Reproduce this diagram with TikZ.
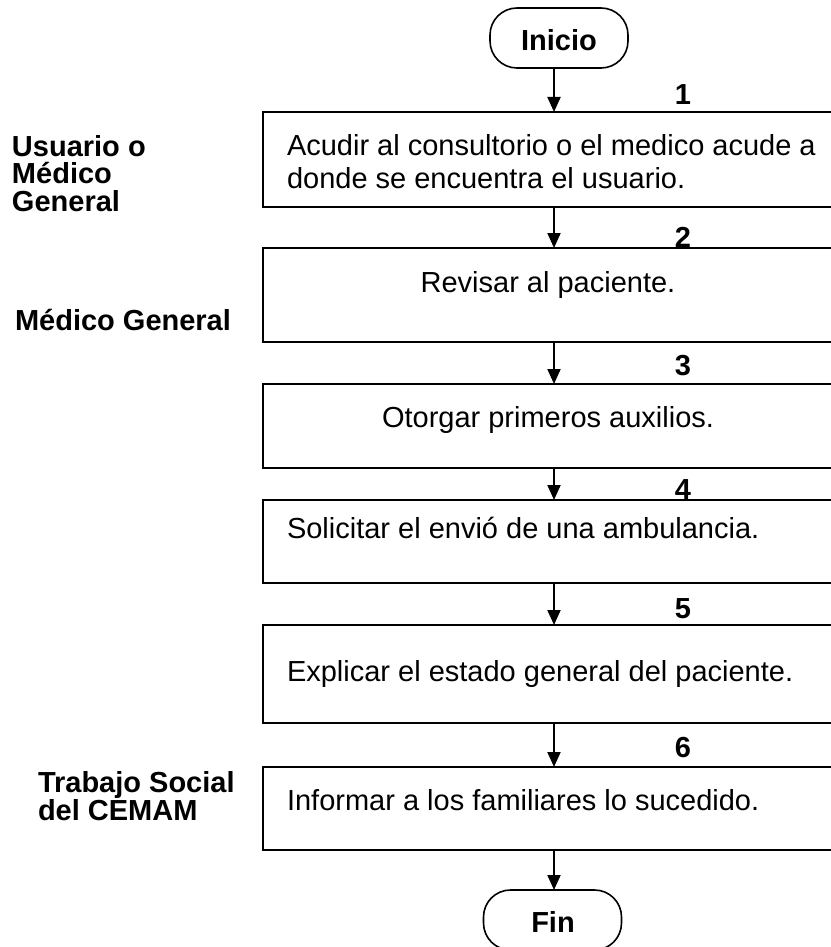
\documentclass[tikz,border=0pt]{standalone}
\usepackage{fontspec}
\setmainfont{Liberation Sans}
\usetikzlibrary{arrows.meta}
\begin{document}
\begin{tikzpicture}[x=1pt,y=-1pt,
  every node/.style={font=\fontsize{29}{33}\selectfont, inner sep=0pt, outer sep=0pt},
  stepbox/.style={draw, line width=2pt, anchor=north west, minimum width=572pt},
  term/.style={draw, line width=1.6pt, rounded corners=27pt, minimum width=138pt, minimum height=60pt},
  lbl/.style={font=\fontsize{29}{27.5}\selectfont\bfseries, anchor=base west, align=left},
  num/.style={font=\fontsize{29}{33}\selectfont\bfseries, anchor=base},
  txt/.style={anchor=base west, align=left},
  ctxt/.style={anchor=base},
  arr/.style={line width=2pt, -{Triangle[width=13pt,length=15pt]}}]
\useasboundingbox (0,0) rectangle (830,947);
\coordinate (ax) at (554,0);
% terminals
\node[term] (ini) at (559,38) {};
\node[font=\fontsize{29}{33}\selectfont\bfseries, anchor=base] (tini) at (559,51) {Inicio};
\node[term] (fin) at (552.5,920) {};
\node[font=\fontsize{29}{33}\selectfont\bfseries, anchor=base] (tfin) at (553,932) {Fin};
% boxes
\node[stepbox, minimum height=95pt] (b1) at (263,112) {};
\node[stepbox, minimum height=94pt] (b2) at (263,248) {};
\node[stepbox, minimum height=84pt] (b3) at (263,384) {};
\node[stepbox, minimum height=83pt] (b4) at (263,500) {};
\node[stepbox, minimum height=98pt] (b5) at (263,625) {};
\node[stepbox, minimum height=83pt] (b6) at (263,767) {};
% box texts
\node[txt] (t1) at (287,188) {Acudir al consultorio o el medico acude a\\donde se encuentra el usuario.};
\node[ctxt] (t2) at (548,292) {Revisar al paciente.};
\node[ctxt] (t3) at (548,427) {Otorgar primeros auxilios.};
\node[txt] (t4) at (287,538) {Solicitar el envió de una ambulancia.};
\node[txt] (t5) at (287,681) {Explicar el estado general del paciente.};
\node[txt] (t6) at (287,810) {Informar a los familiares lo sucedido.};
% numbers
\node[num] (n1) at (683,105) {1};
\node[num] (n2) at (683,247) {2};
\node[num] (n3) at (683,375) {3};
\node[num] (n4) at (683,499) {4};
\node[num] (n5) at (683,618) {5};
\node[num] (n6) at (683,757) {6};
% role labels
\node[lbl] (r1) at (12,211) {Usuario o\\Médico\\General};
\node[lbl] (r2) at (15,330) {Médico General};
\node[lbl] (r3) at (38,820) {Trabajo Social\\del CEMAM};
% connectors
\draw[arr] (ini.south -| ax) -- (b1.north -| ax);
\draw[arr] (b1.south -| ax) -- (b2.north -| ax);
\draw[arr] (b2.south -| ax) -- (b3.north -| ax);
\draw[arr] (b3.south -| ax) -- (b4.north -| ax);
\draw[arr] (b4.south -| ax) -- (b5.north -| ax);
\draw[arr] (b5.south -| ax) -- (b6.north -| ax);
\draw[arr] (b6.south -| ax) -- (fin.north -| ax);
\end{tikzpicture}
\end{document}
